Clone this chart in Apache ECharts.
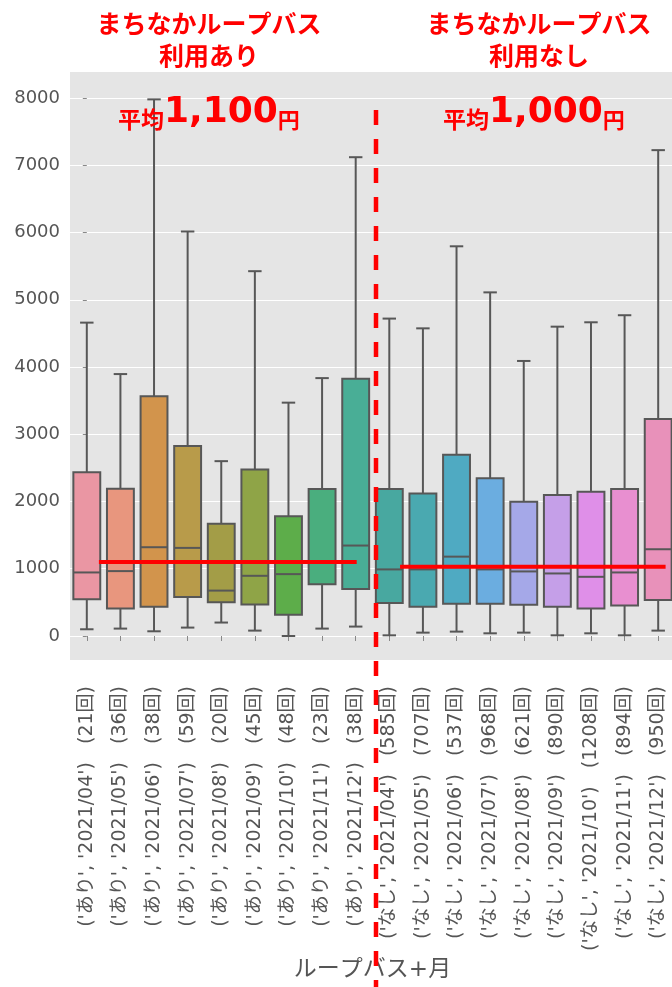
<!DOCTYPE html>
<html>
<head>
<meta charset="utf-8">
<script src="https://cdn.jsdelivr.net/npm/echarts@6/dist/echarts.min.js"></script>
<style>
  html, body { margin: 0; padding: 0; background: #fff; }
  #chart { width: 672px; height: 987px; }
</style>
</head>
<body>
<div id="chart"></div>
<script>
// データ
const groups = ['あり', 'あり', 'あり', 'あり', 'あり', 'あり', 'あり', 'あり', 'あり',
  'なし', 'なし', 'なし', 'なし', 'なし', 'なし', 'なし', 'なし', 'なし']
const months = ['2021/04', '2021/05', '2021/06', '2021/07', '2021/08', '2021/09', '2021/10', '2021/11', '2021/12',
  '2021/04', '2021/05', '2021/06', '2021/07', '2021/08', '2021/09', '2021/10', '2021/11', '2021/12']
const counts = [21, 36, 38, 59, 20, 45, 48, 23, 38, 585, 707, 537, 968, 621, 890, 1208, 894, 950]

// 箱ひげ: 下ひげ, 第1四分位, 中央値, 第3四分位, 上ひげ
const whiskerLow = [100, 110, 70, 125, 200, 80, 0, 110, 140, 10, 50, 65, 40, 50, 10, 40, 10, 80]
const q1 = [545, 410, 435, 580, 500, 470, 315, 770, 700, 490, 435, 480, 480, 465, 435, 410, 455, 535]
const median = [945, 965, 1320, 1310, 675, 895, 920, 1100, 1345, 990, 990, 1180, 990, 960, 930, 880, 945, 1290]
const q3 = [2435, 2190, 3565, 2825, 1670, 2475, 1780, 2185, 3825, 2185, 2120, 2695, 2345, 1995, 2095, 2145, 2185, 3225]
const whiskerHigh = [4660, 3895, 7980, 6015, 2600, 5425, 3470, 3835, 7120, 4720, 4575, 5795, 5110, 4090, 4600, 4665, 4770, 7225]

const yTicks = [0, 1000, 2000, 3000, 4000, 5000, 6000, 7000, 8000]

// 平均線
const meanAri = 1100
const meanNashi = 1030

// 見た目
const palette = ['#EA96A3', '#E8967E', '#D2944C', '#B89B4A', '#A39D47', '#8FA447', '#5DAD4A', '#4AAE7E', '#49AE96',
  '#48A8A0', '#4AA9B0', '#4FAAC2', '#6BADE0', '#A5A8E8', '#C59FE8', '#DF8FE8', '#E88FD0', '#E891BA']
const lineColor = '#575757'
const labelColor = '#555555'
const fontFamily = "'DejaVu Sans', 'Noto Sans CJK JP', sans-serif"
const spanAri = [0.36, 8.03]
const spanNashi = [9.32, 17.22]

const categories = groups.map((g, i) => "('" + g + "', '" + months[i] + "')   (" + counts[i] + '回)')
const boxData = categories.map((c, i) => [i, whiskerLow[i], q1[i], median[i], q3[i], whiskerHigh[i]])

function renderBox (params, api) {
  const i = api.value(0)
  const pLow = api.coord([i, api.value(1)])
  const pQ1 = api.coord([i, api.value(2)])
  const pMed = api.coord([i, api.value(3)])
  const pQ3 = api.coord([i, api.value(4)])
  const pHigh = api.coord([i, api.value(5)])
  const band = api.size([1, 0])[0]
  const bw = band * 0.8
  const cw = bw / 2
  const x = pMed[0]
  const ls = { stroke: lineColor, lineWidth: 2 }
  return {
    type: 'group',
    children: [
      { type: 'line', shape: { x1: x, y1: pQ1[1], x2: x, y2: pLow[1] }, style: ls },
      { type: 'line', shape: { x1: x, y1: pQ3[1], x2: x, y2: pHigh[1] }, style: ls },
      { type: 'line', shape: { x1: x - cw / 2, y1: pLow[1], x2: x + cw / 2, y2: pLow[1] }, style: ls },
      { type: 'line', shape: { x1: x - cw / 2, y1: pHigh[1], x2: x + cw / 2, y2: pHigh[1] }, style: ls },
      {
        type: 'rect',
        shape: { x: x - bw / 2, y: pQ3[1], width: bw, height: pQ1[1] - pQ3[1] },
        style: { fill: palette[params.dataIndex], stroke: lineColor, lineWidth: 2 }
      },
      { type: 'line', shape: { x1: x - bw / 2, y1: pMed[1], x2: x + bw / 2, y2: pMed[1] }, style: ls }
    ]
  }
}

const chart = echarts.init(document.getElementById('chart'))
chart.setOption({
  animation: false,
  backgroundColor: '#ffffff',
  grid: {
    left: 70,
    top: 72,
    width: 605,
    height: 588,
    outerBoundsMode: 'none',
    show: true,
    backgroundColor: '#E5E5E5',
    borderWidth: 0
  },
  xAxis: [
    {
      type: 'category',
      data: categories,
      name: 'ループバス+月',
      nameLocation: 'middle',
      nameGap: 299,
      nameTextStyle: { fontSize: 23, color: labelColor, fontFamily: fontFamily },
      axisLine: { show: false },
      axisTick: { show: true, alignWithLabel: true, length: 5, lineStyle: { color: '#888' } },
      axisLabel: {
        rotate: 90,
        interval: 0,
        margin: 26,
        fontSize: 19,
        color: labelColor,
        fontFamily: fontFamily
      },
      splitLine: { show: false }
    },
    {
      type: 'value',
      min: -0.5,
      max: 17.5,
      show: false
    }
  ],
  yAxis: {
    type: 'value',
    min: -357,
    max: 8387,
    axisLine: { show: false },
    axisTick: { show: true, length: 4, customValues: yTicks, lineStyle: { color: '#888' } },
    axisLabel: {
      customValues: yTicks,
      formatter: v => String(v),
      margin: 10,
      fontSize: 18,
      color: labelColor,
      fontFamily: fontFamily
    },
    splitLine: { show: true, lineStyle: { color: '#ffffff', width: 1.2 } }
  },
  series: [
    {
      type: 'custom',
      renderItem: renderBox,
      encode: { x: 0, y: [1, 2, 3, 4, 5] },
      data: boxData,
      z: 2
    },
    {
      type: 'line',
      xAxisIndex: 1,
      symbol: 'none',
      lineStyle: { color: '#FF0000', width: 4 },
      data: [[spanAri[0], meanAri], [spanAri[1], meanAri]],
      z: 5
    },
    {
      type: 'line',
      xAxisIndex: 1,
      symbol: 'none',
      lineStyle: { color: '#FF0000', width: 4 },
      data: [[spanNashi[0], meanNashi], [spanNashi[1], meanNashi]],
      z: 5
    }
  ],
  graphic: [
    {
      type: 'line',
      z: 100,
      shape: { x1: 376, y1: 110, x2: 376, y2: 987 },
      style: { stroke: '#FF0000', lineWidth: 4.5, lineDash: [15, 14] }
    },
    {
      type: 'text',
      z: 100,
      style: {
        x: 209, y: 7,
        text: 'まちなかループバス\n利用あり',
        align: 'center',
        verticalAlign: 'top',
        fill: '#FF0000',
        font: "bold 25px 'Noto Sans CJK JP'",
        lineHeight: 32
      }
    },
    {
      type: 'text',
      z: 100,
      style: {
        x: 539, y: 7,
        text: 'まちなかループバス\n利用なし',
        align: 'center',
        verticalAlign: 'top',
        fill: '#FF0000',
        font: "bold 25px 'Noto Sans CJK JP'",
        lineHeight: 32
      }
    },
    {
      type: 'text',
      z: 100,
      style: {
        x: 118, y: 131,
        text: '{a|平均}{b|1,100}{c|円}',
        verticalAlign: 'bottom',
        rich: {
          a: { fill: '#FF0000', fontSize: 23, fontWeight: 'bold', fontFamily: 'Noto Sans CJK JP', verticalAlign: 'bottom' },
          b: { fill: '#FF0000', fontSize: 36, fontWeight: 'bold', fontFamily: 'DejaVu Sans', verticalAlign: 'bottom' },
          c: { fill: '#FF0000', fontSize: 22, fontWeight: 'bold', fontFamily: 'Noto Sans CJK JP', verticalAlign: 'bottom' }
        }
      }
    },
    {
      type: 'text',
      z: 100,
      style: {
        x: 443, y: 131,
        text: '{a|平均}{b|1,000}{c|円}',
        verticalAlign: 'bottom',
        rich: {
          a: { fill: '#FF0000', fontSize: 23, fontWeight: 'bold', fontFamily: 'Noto Sans CJK JP', verticalAlign: 'bottom' },
          b: { fill: '#FF0000', fontSize: 36, fontWeight: 'bold', fontFamily: 'DejaVu Sans', verticalAlign: 'bottom' },
          c: { fill: '#FF0000', fontSize: 22, fontWeight: 'bold', fontFamily: 'Noto Sans CJK JP', verticalAlign: 'bottom' }
        }
      }
    }
  ]
})
</script>
</body>
</html>
